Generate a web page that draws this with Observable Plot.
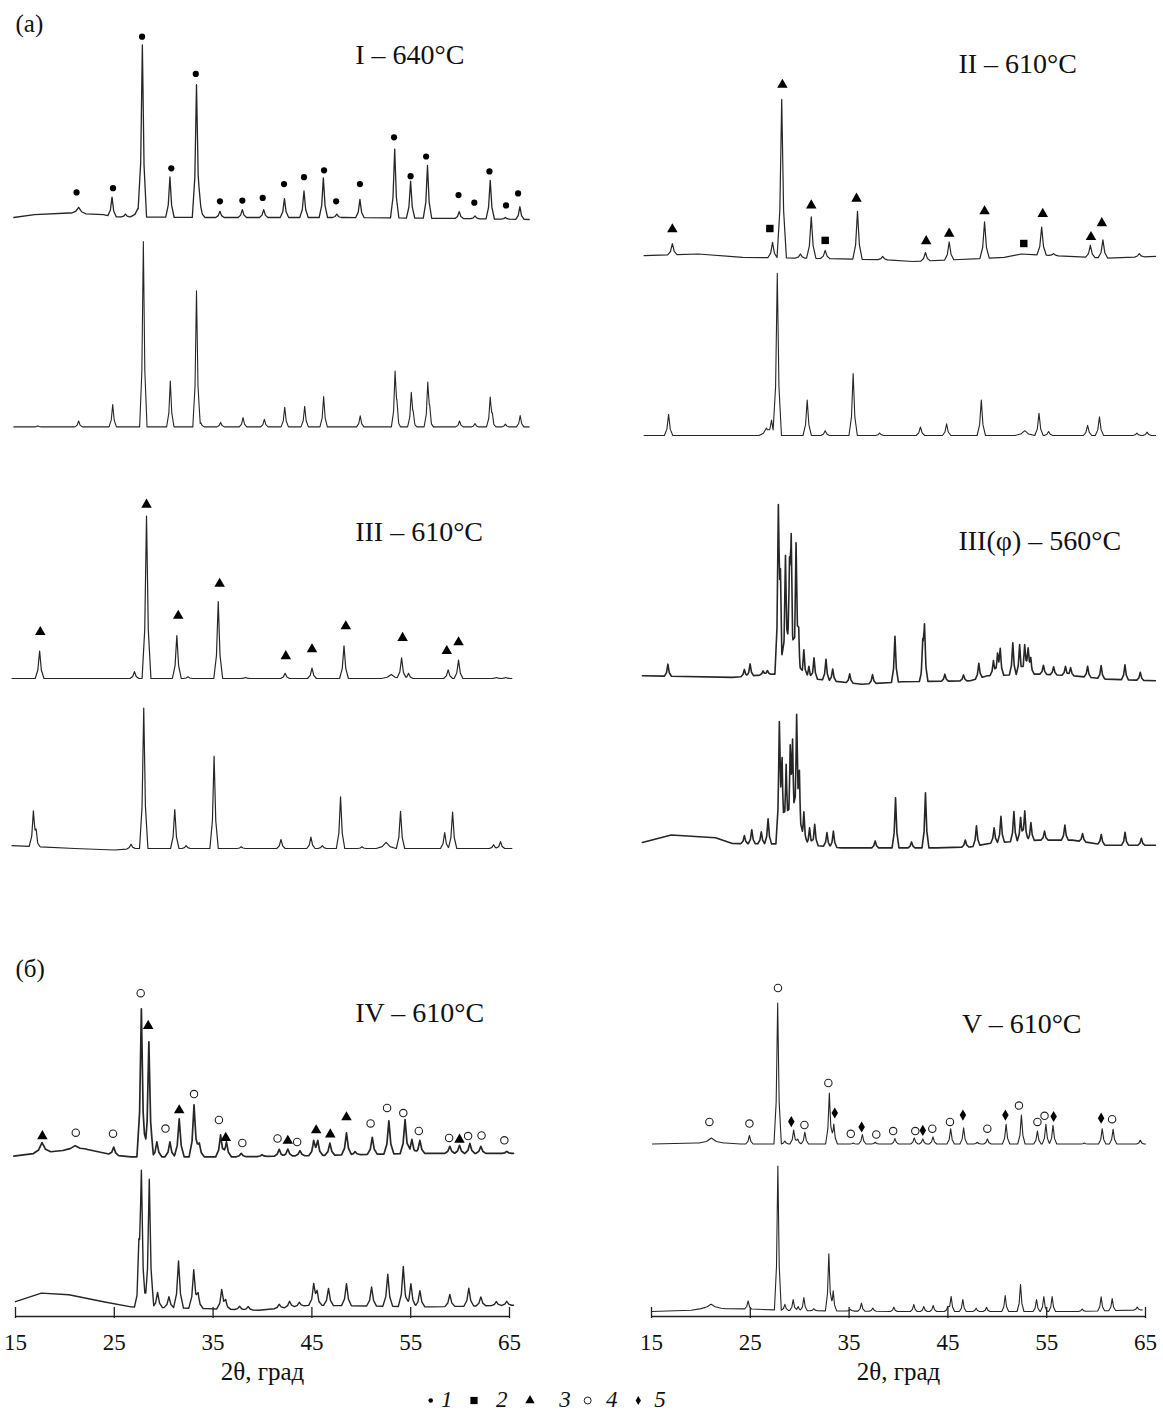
<!DOCTYPE html>
<html>
<head>
<meta charset="utf-8">
<script src="https://cdn.jsdelivr.net/npm/d3@7"></script>
<script src="https://cdn.jsdelivr.net/npm/@observablehq/plot@0.6"></script>
<style>
  body { margin: 0; background: #fff; }
  #wrap { width: 1163px; }
  #wrap svg { display: block; }
</style>
</head>
<body>
<div id="wrap"></div>
<script>
// ================= DATA =================
// x axis
const ticks2theta = [15, 25, 35, 45, 55, 65];
const axisTitle = "2θ, град";
const partLetters = ["(а)", "(б)"];
const panelTitles = ["I – 640°C", "II – 610°C", "III – 610°C", "III(φ) – 560°C", "IV – 610°C", "V – 610°C"];
const legendLabels = ["1", "2", "3", "4", "5"];

// Each trace: baseline [2θ, level], peaks [2θ, height, (halfwidth)], phase marks [2θ, level, phase]
// ---- I (640°C) ----
const I_exp_base = [[14.83,0],[16.92,2.8],[20.41,4.5],[23.9,2.8],[24.94,0.7],[34.4,0],[48.3,0],[60,-1],[66.99,-2]];
const I_exp_peaks = [[21.39,6.2,0.3],[24.77,19.3],[26.13,2.8],[27.39,8.6,0.3],[27.84,170.5],[30.63,40.3],[33.32,132.6],[33.74,11.4],[35.69,6.2],[37.96,7.9],[40.12,7.9],[42.22,18.9],[44.2,26.5],[46.16,39.6],[47.52,3.4],[49.86,18.3],[53.38,68.9],[54.99,36.8],[56.7,52.7],[59.91,6.9],[61.51,2.8],[63.05,38.6],[64.58,1.7],[66.05,12.7]];
const I_exp_marks = [[21.18,25.1,1],[24.87,29.3,1],[27.81,180.8,1],[30.77,49.2,1],[33.25,143.6,1],[35.69,16.2,1],[37.96,16.9,1],[40.02,19.6,1],[42.18,33.4,1],[44.2,40.3,1],[46.23,47.2,1],[47.45,16.2,1],[49.86,33.4,1],[53.31,80.2,1],[54.99,41.3,1],[56.56,61,1],[59.84,22.4,1],[61.44,14.8,1],[62.97,46.1,1],[64.65,12.1,1],[65.87,24.1,1]];
const I_ref_base = [[14.83,0],[66.99,0]];
const I_ref_peaks = [[17.27,1.0],[21.39,5.9],[24.84,22.4],[27.94,185.3],[30.67,45.8],[33.32,136],[33.74,4.5],[35.76,4.5],[38.03,9.3],[40.19,7.6],[42.25,19.6],[44.27,20.7],[46.19,30.3],[49.89,11],[53.42,52.3],[53.6,14],[55.06,32.7],[55.25,8],[56.73,42],[56.92,12],[59.94,5.9],[61.51,3.4],[63.05,28.2],[63.26,8],[64.58,2.8],[66.08,11.4]];

// ---- II (610°C) ----
const II_exp_base = [[14.25,5.8],[19.75,7.5],[24.22,4.1],[30.07,3.4],[38.68,1.7],[41.43,0],[45.55,1.7],[50.71,4.1],[52.43,7.5],[55.87,5.8],[61.03,3.4],[66.02,5.1]];
const II_exp_peaks = [[17.11,11.2],[27.25,15.3],[28.18,158.4],[30.07,4.1],[31.17,41.5],[32.58,8.2],[35.85,47.9],[38.4,3.4],[42.73,8.5],[45.13,18],[48.71,36.4],[54.49,27.9],[55.7,2],[59.42,11.9],[60.69,18],[64.37,3.4]];
const II_exp_marks = [[17.11,32.3,3],[26.98,33,2],[28.25,176.7,3],[31.17,56.1,3],[32.58,21.1,2],[35.75,62.9,3],[42.8,20.4,3],[45.13,27.9,3],[48.71,50.3,3],[52.68,18,2],[54.6,47.6,3],[59.48,24.5,3],[60.58,38.4,3]];
const II_ref_base = [[14.25,1],[66.02,1]];
const II_ref_peaks = [[16.73,21.1],[26.63,7.5,0.3],[27.15,14.3],[27.73,162.1],[30.76,35.4],[32.58,4.8],[35.41,61.9],[38.09,2.4],[42.22,8.5],[44.87,11.6],[48.38,35.4],[52.78,4.8,0.4],[54.22,22.1],[55.19,4],[59.14,10.2],[60.34,18.7],[64.13,2.4],[65.16,3.4]];

// ---- III (610°C) ----
const III_exp_base = [[14.65,0],[65.24,0]];
const III_exp_peaks = [[17.44,27.5],[27.04,6.9],[28.26,162.5],[31.33,43],[32.45,1.7],[35.52,76.8],[38.27,1],[42.29,5.2],[45.01,10.3],[48.25,32.7],[53.03,4.1,0.4],[54.08,20.7],[54.78,5.2],[58.79,8.6],[59.84,18.3],[63.67,1],[64.62,1]];
const III_exp_marks = [[17.51,46.5,3],[28.26,173.9,3],[31.47,62.7,3],[35.66,94.7,3],[42.36,22.4,3],[45.01,29.3,3],[48.43,52.3,3],[54.18,40.6,3],[58.65,27.5,3],[59.84,36.2,3]];
const III_ref_base = [[14.65,2.8],[21,0],[25,-1.5],[27,0],[65.24,0]];
const III_ref_peaks = [[16.81,33.7],[17.09,12],[26.69,4.5],[27.98,140.5],[31.12,38.9],[32.27,2.8],[35.1,92.3],[37.85,1.7],[41.87,9],[44.9,11.4],[46.05,2.8],[47.9,51.7],[50.07,1.7],[52.51,6.2,0.4],[53.97,37.2],[58.44,15.8],[59.24,36.5],[63.39,3.8],[64.09,6.9]];

// ---- III(φ) (560°C) ----
const IIIf_exp_base = [[14.08,5.1],[23.2,3.4],[27.32,6.8],[30.5,3],[36.27,-3.4],[40.39,-1],[47.27,0],[49,5],[54.15,6.8],[57.59,5.1],[61.03,1.7],[66.0,0]];
const IIIf_exp_peaks = [[16.66,12],[24.4,7],[24.98,12],[26.29,4],[26.73,4],[27.84,155],[28.05,75],[28.56,120],[28.97,88],[29.14,120],[29.63,130],[29.9,35],[30.42,28],[30.93,12],[31.45,21],[32.66,21],[33.34,12],[35.06,9],[37.37,9],[39.64,46],[42.46,30],[42.63,50],[44.69,7],[46.58,6],[48.13,15],[49.61,15],[50.02,20],[50.3,25],[51.57,32],[52.26,30],[52.77,30],[53.12,25],[53.39,14],[54.67,9],[55.7,8],[56.9,9],[57.42,8],[59.14,11],[60.51,13],[62.92,15],[64.47,8]];
const IIIf_ref_base = [[14.08,4.4],[17.0,11.9],[21.47,9.2],[23.19,3.4],[27.5,3],[31,2],[34.2,-1],[43.83,-1],[47.27,0],[49.5,4],[54.15,6.8],[57.59,6.8],[61.03,1.7],[66.0,1.7]];
const IIIf_ref_peaks = [[24.4,8],[25.15,14],[26.11,12],[26.8,25],[27.94,115],[28.22,75],[28.63,80],[29.04,85],[29.28,92],[29.69,124],[29.97,62],[30.42,33],[31.0,17],[31.52,21],[32.76,14],[33.41,16],[37.64,7],[39.7,50],[41.32,6],[42.73,55],[46.76,7],[47.89,20],[49.68,15],[50.37,26],[51.68,30],[52.36,24],[52.78,30],[53.4,18],[54.78,9],[56.84,15],[58.63,8],[60.52,10],[62.93,13],[64.58,7]];

// ---- IV (610°C) ----
const IV_exp_base = [[14.83,0.7],[16.92,3.4],[20.41,6.9],[22.15,7.6],[24.94,1.7],[26.69,0],[37.85,0],[44,1],[55.3,3.4],[65.4,3.4]];
const IV_exp_peaks = [[17.69,10,0.35],[21.04,4,0.5],[24.94,8],[27.74,148,0.18],[28.5,115,0.18],[29.31,15],[30.63,15],[31.57,38],[33.07,52],[33.6,14],[35.76,22],[36.35,15],[37.85,3.4],[39.95,1.7],[41.69,6.9],[42.56,7],[43.79,5.2],[45.18,14],[45.6,14],[46.82,12],[48.5,22],[49.37,3],[51.11,17],[52.79,33],[54.43,34],[55.12,14],[55.93,13],[58.96,7],[59.94,8],[60.99,10],[62.1,7],[64.72,2]];
const IV_exp_marks = [[17.72,20.7,3],[21.1,24.1,4],[24.87,23.1,4],[27.67,163.6,4],[28.43,130.9,3],[30.18,28.2,4],[31.57,46.5,3],[33.07,62.7,4],[35.59,36.8,4],[36.28,18.9,3],[37.96,13.8,4],[41.52,18.3,4],[42.56,16,3],[43.51,14.8,4],[45.43,26.5,3],[46.86,22.4,3],[48.5,39.6,3],[50.94,33.4,4],[52.61,48.9,4],[54.25,43.7,4],[55.82,25.8,4],[58.89,18.9,4],[59.94,17.2,3],[60.81,20.7,4],[62.17,21.3,4],[64.48,16.5,4]];
const IV_ref_base = [[15,6.9],[17.62,15.5],[20.41,13.8],[23.9,6.9],[26.69,1.7],[34.36,0],[39.6,-1.7],[44.83,3.4],[57.04,1.7],[65.4,3.4]];
const IV_ref_peaks = [[27.49,40,0.18],[27.74,128,0.18],[28.54,128,0.18],[29.38,15],[30.53,11],[31.5,47],[33.04,38],[33.49,14],[35.87,19],[36.28,8],[37.68,3.4],[38.55,3.4],[41.69,4],[42.74,6],[43.72,4],[45.18,20],[45.53,12],[46.68,17],[48.5,22],[51.04,19],[52.68,32],[54.25,40],[55.02,23],[55.93,16],[58.96,12],[60.88,18],[62.1,9],[63.67,4],[64.72,4]];

// ---- V (610°C) ----
const V_exp_base = [[15.1,0],[19.5,1],[22.5,1],[24,0],[65,0]];
const V_exp_peaks = [[21.06,5,0.5],[24.91,8.5],[27.77,141],[28.5,3],[29.39,13.9],[29.8,5],[30.52,11.9],[33.0,51],[33.45,20],[35.41,1],[36.34,9.5],[37.64,1.7],[39.64,5.4],[41.6,6.1],[42.46,5.1],[43.49,7.1],[45.28,15.3],[46.59,16.3],[47.97,1.7],[49.0,5.1],[50.89,19.7],[52.44,28.9],[54.06,12.9],[54.92,19.7],[55.64,18.7],[58.8,1],[60.62,15.3],[61.72,14.6],[64.47,3.7]];
const V_exp_marks = [[20.86,22.1,4],[24.91,20.4,4],[27.8,156,4],[29.15,22.4,5],[30.48,19,4],[32.9,61,4],[33.55,31,5],[35.17,10.2,4],[36.27,17,5],[37.75,9.5,4],[39.46,12.9,4],[41.7,12.9,4],[42.46,13.6,5],[43.42,15.3,4],[45.21,22.1,4],[46.52,28.9,5],[48.99,15.3,4],[50.82,28.9,5],[52.19,38.4,4],[54.06,22.1,4],[54.78,28.2,4],[55.7,27.5,5],[60.51,25.8,5],[61.62,24.8,4]];
const V_ref_base = [[15,0.7],[19,2],[20.97,5],[22.5,3.5],[24.68,3.3],[29,1.7],[40,0.7],[58,0.7],[64.66,2.3]];
const V_ref_peaks = [[21.04,3,0.4],[24.78,8],[27.79,144],[28.5,6],[29.34,11],[29.84,4],[30.42,13],[31.43,2],[32.95,57],[33.39,20],[35.14,1.7],[36.25,8],[37.4,3.3],[39.53,4.3],[41.55,7],[42.56,5],[43.51,6],[44.99,5],[45.33,15],[46.51,12],[47.86,3.3],[48.91,4.3],[50.8,16],[52.35,27],[53.97,12],[54.71,15],[55.55,15],[58.59,2.3],[60.51,14],[61.63,12],[64.16,3]];

// ================= LAYOUT =================
const FONT = '"Liberation Serif", "Times New Roman", serif';
// zero = vertical offset of each trace (in px-like intensity units above the axis)
const traces = [
  {id:"I_exp",   col:"L", zero:1099,  w:0.17, sw:1.3, base:I_exp_base,   peaks:I_exp_peaks,   marks:I_exp_marks},
  {id:"I_ref",   col:"L", zero:889.6, w:0.15, sw:1.1, base:I_ref_base,   peaks:I_ref_peaks},
  {id:"II_exp",  col:"R", zero:1055,  w:0.19, sw:1.2, base:II_exp_base,  peaks:II_exp_peaks,  marks:II_exp_marks},
  {id:"II_ref",  col:"R", zero:880,   w:0.17, sw:1.1, base:II_ref_base,  peaks:II_ref_peaks},
  {id:"III_exp", col:"L", zero:638,   w:0.18, sw:1.2, base:III_exp_base, peaks:III_exp_peaks, marks:III_exp_marks},
  {id:"III_ref", col:"L", zero:468,   w:0.17, sw:1.2, base:III_ref_base, peaks:III_ref_peaks},
  {id:"IIIf_exp",col:"R", zero:635.7, w:0.14, sw:1.6, base:IIIf_exp_base,peaks:IIIf_exp_peaks},
  {id:"IIIf_ref",col:"R", zero:469.6, w:0.14, sw:1.6, base:IIIf_ref_base,peaks:IIIf_ref_peaks},
  {id:"IV_exp",  col:"L", zero:159.7, w:0.2,  sw:1.7, base:IV_exp_base,  peaks:IV_exp_peaks,  marks:IV_exp_marks},
  {id:"IV_ref",  col:"L", zero:7.9,   w:0.2,  sw:1.4, base:IV_ref_base,  peaks:IV_ref_peaks},
  {id:"V_exp",   col:"R", zero:172.5, w:0.15, sw:1.1, base:V_exp_base,   peaks:V_exp_peaks,   marks:V_exp_marks},
  {id:"V_ref",   col:"R", zero:4.3,   w:0.14, sw:1.1, base:V_ref_base,   peaks:V_ref_peaks}
];
const titleRows = [
  {text:panelTitles[0], col:"L", x:49.38, y:1252.3},
  {text:panelTitles[1], col:"R", x:46.07, y:1243.7},
  {text:panelTitles[2], col:"L", x:49.38, y:775.7},
  {text:panelTitles[3], col:"R", x:46.07, y:766.5},
  {text:panelTitles[4], col:"L", x:49.38, y:294.7},
  {text:panelTitles[5], col:"R", x:46.42, y:284}
];
const letterRows = [
  {text:partLetters[0], col:"L", x:15.0, y:1285},
  {text:partLetters[1], col:"L", x:15.0, y:340}
];
const phaseStyle = {
  1: {symbol:"circle",   r:3.1, fill:"#000"},
  2: {symbol:"square",   r:4.2, fill:"#000"},
  3: {symbol:"triangle", r:3.9, fill:"#000"},
  4: {symbol:"circle",   r:3.7, fill:"#fff", stroke:"#222", strokeWidth:1.1},
  5: {symbol:"diamond",  r:3.4, fill:"#000"}
};

// peak profile: sharp apex with short tails (piecewise linear)
function shape(x, c, h, w) {
  const a = Math.abs(x - c);
  if (a <= w) return h * (1 - 0.7 * a / w);
  if (a <= 2.5 * w) return 0.3 * h * (2.5 * w - a) / (1.5 * w);
  return 0;
}
function baseAt(base, x) {
  if (x <= base[0][0]) return base[0][1];
  for (let i = 1; i < base.length; i++) {
    const [xa, ya] = base[i - 1], [xb, yb] = base[i];
    if (x <= xb) return ya + (yb - ya) * (x - xa) / (xb - xa);
  }
  return base[base.length - 1][1];
}
function profile(t) {
  const lo = t.base[0][0], hi = t.base[t.base.length - 1][0];
  const xs = new Set(t.base.map(d => d[0]));
  for (const [c, , w = t.w] of t.peaks)
    for (const k of [-2.5, -1, 0, 1, 2.5]) xs.add(Math.round((c + k * w) * 1e4) / 1e4);
  return [...xs].filter(x => x >= lo && x <= hi).sort((a, b) => a - b).map(x => ({
    col: t.col, x,
    y: t.zero + baseAt(t.base, x) + d3.sum(t.peaks, ([c, h, w = t.w]) => shape(x, c, h, w))
  }));
}

const marks = [];
for (const t of traces) {
  marks.push(Plot.line(profile(t), {x:"x", y:"y", fx:"col", stroke:"#262626", strokeWidth:t.sw, strokeLinejoin:"round"}));
}
const markerRows = traces.flatMap(t => (t.marks || []).map(([x, lvl, ph]) => ({col:t.col, x, y:t.zero + lvl, ph})));
for (const ph of [1, 2, 3, 4, 5]) {
  marks.push(Plot.dot(markerRows.filter(d => d.ph === ph), {x:"x", y:"y", fx:"col", ...phaseStyle[ph]}));
}
// axis (drawn in both columns)
marks.push(Plot.ruleY([0], {stroke:"#222", strokeWidth:1.3}));
marks.push(Plot.ruleX(ticks2theta, {x:d => d, y1:-2, y2:9, stroke:"#222", strokeWidth:1.3}));
marks.push(Plot.text(ticks2theta, {x:d => d, y:-33, text:d => String(d), lineAnchor:"bottom", fontSize:23, fontFamily:FONT, fill:"#111"}));
marks.push(Plot.text([axisTitle], {x:40, y:-63, text:d => d, lineAnchor:"bottom", fontSize:25, fontFamily:FONT, fill:"#111"}));
// titles
marks.push(Plot.text(titleRows, {x:"x", y:"y", fx:"col", text:"text", textAnchor:"start", lineAnchor:"bottom", fontSize:28, fontFamily:FONT, fill:"#111"}));
marks.push(Plot.text(letterRows, {x:"x", y:"y", fx:"col", text:"text", textAnchor:"start", lineAnchor:"bottom", fontSize:25, fontFamily:FONT, fill:"#111"}));

const chart = Plot.plot({
  width: 1163, height: 1388,
  marginLeft: 15, marginRight: 18, marginTop: 0, marginBottom: 72,
  fx: {domain: ["L", "R"], paddingInner: 0.2233, paddingOuter: 0, axis: null, label: null},
  x: {domain: [15, 65], axis: null},
  y: {domain: [0, 1316], axis: null},
  style: {background: "white", overflow: "visible"},
  marks
});
document.getElementById("wrap").appendChild(chart);

// ---- legend (below the chart) ----
const legSymbols = [
  {type: d3.symbolCircle,   size: 16, fill: "#000", cx: 430.7},
  {type: d3.symbolSquare,   size: 52, fill: "#000", cx: 474},
  {type: d3.symbolTriangle, size: 38, fill: "#000", cx: 530},
  {type: d3.symbolCircle,   size: 38, fill: "#fff", stroke: "#222", cx: 587.7},
  {type: d3.symbolDiamond,  size: 24, fill: "#000", cx: 638.3}
];
const legTextX = [446.7, 501.7, 565, 611.7, 660];
const leg = d3.create("svg").attr("width", 1163).attr("height", 25).style("display", "block").style("background", "white");
legSymbols.forEach((s, i) => {
  leg.append("path")
    .attr("d", d3.symbol(s.type, s.size)())
    .attr("transform", `translate(${s.cx},12.5)`)
    .attr("fill", s.fill)
    .attr("stroke", s.stroke || "none")
    .attr("stroke-width", s.stroke ? 1 : 0);
  leg.append("text")
    .attr("x", legTextX[i]).attr("y", 19)
    .attr("text-anchor", "middle")
    .attr("font-family", FONT).attr("font-style", "italic").attr("font-size", 23)
    .attr("fill", "#111")
    .text(legendLabels[i]);
});
document.getElementById("wrap").appendChild(leg.node());
</script>
</body>
</html>
